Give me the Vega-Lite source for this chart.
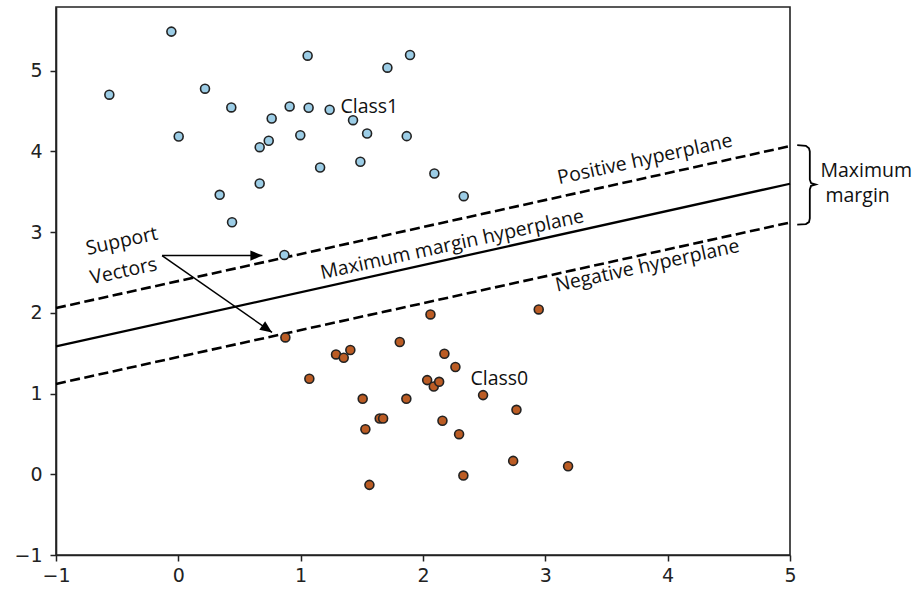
{
  "$schema": "https://vega.github.io/schema/vega-lite/v6.json",
  "width": 734,
  "height": 548,
  "autosize": {"type": "none"},
  "padding": {"left": 56, "top": 7, "right": 126, "bottom": 34},
  "background": "white",
  "config": {
    "view": {"stroke": "#222", "strokeWidth": 1.6},
    "axis": {
      "grid": false,
      "title": null,
      "labelFont": "DejaVu Sans",
      "labelFontSize": 19,
      "labelColor": "#222",
      "tickColor": "#222",
      "domainColor": "#222",
      "tickWidth": 1.5,
      "domainWidth": 1.6,
      "tickSize": 6,
      "labelFlush": false,
      "labelOverlap": false
    }
  },
  "datasets": {
    "points": [
      {"x": -0.564, "y": 4.704, "cls": "Class1"},
      {"x": -0.057, "y": 5.485, "cls": "Class1"},
      {"x": 0.003, "y": 4.186, "cls": "Class1"},
      {"x": 0.218, "y": 4.778, "cls": "Class1"},
      {"x": 0.433, "y": 4.546, "cls": "Class1"},
      {"x": 0.338, "y": 3.463, "cls": "Class1"},
      {"x": 0.439, "y": 3.123, "cls": "Class1"},
      {"x": 0.665, "y": 3.603, "cls": "Class1"},
      {"x": 0.665, "y": 4.053, "cls": "Class1"},
      {"x": 0.739, "y": 4.133, "cls": "Class1"},
      {"x": 0.763, "y": 4.409, "cls": "Class1"},
      {"x": 0.910, "y": 4.558, "cls": "Class1"},
      {"x": 0.997, "y": 4.202, "cls": "Class1"},
      {"x": 1.057, "y": 5.187, "cls": "Class1"},
      {"x": 1.065, "y": 4.542, "cls": "Class1"},
      {"x": 1.159, "y": 3.801, "cls": "Class1"},
      {"x": 1.237, "y": 4.517, "cls": "Class1"},
      {"x": 1.428, "y": 4.388, "cls": "Class1"},
      {"x": 1.488, "y": 3.872, "cls": "Class1"},
      {"x": 1.543, "y": 4.223, "cls": "Class1"},
      {"x": 1.709, "y": 5.038, "cls": "Class1"},
      {"x": 1.894, "y": 5.195, "cls": "Class1"},
      {"x": 1.867, "y": 4.190, "cls": "Class1"},
      {"x": 2.093, "y": 3.727, "cls": "Class1"},
      {"x": 2.333, "y": 3.446, "cls": "Class1"},
      {"x": 0.867, "y": 2.718, "cls": "Class1"},
      {"x": 0.875, "y": 1.696, "cls": "Class0"},
      {"x": 1.071, "y": 1.184, "cls": "Class0"},
      {"x": 1.289, "y": 1.485, "cls": "Class0"},
      {"x": 1.352, "y": 1.444, "cls": "Class0"},
      {"x": 1.406, "y": 1.540, "cls": "Class0"},
      {"x": 1.507, "y": 0.935, "cls": "Class0"},
      {"x": 1.529, "y": 0.559, "cls": "Class0"},
      {"x": 1.562, "y": -0.131, "cls": "Class0"},
      {"x": 1.646, "y": 0.691, "cls": "Class0"},
      {"x": 1.674, "y": 0.691, "cls": "Class0"},
      {"x": 1.810, "y": 1.639, "cls": "Class0"},
      {"x": 1.864, "y": 0.935, "cls": "Class0"},
      {"x": 2.061, "y": 1.981, "cls": "Class0"},
      {"x": 2.034, "y": 1.167, "cls": "Class0"},
      {"x": 2.088, "y": 1.088, "cls": "Class0"},
      {"x": 2.132, "y": 1.146, "cls": "Class0"},
      {"x": 2.175, "y": 1.494, "cls": "Class0"},
      {"x": 2.159, "y": 0.663, "cls": "Class0"},
      {"x": 2.265, "y": 1.329, "cls": "Class0"},
      {"x": 2.491, "y": 0.981, "cls": "Class0"},
      {"x": 2.764, "y": 0.799, "cls": "Class0"},
      {"x": 2.295, "y": 0.497, "cls": "Class0"},
      {"x": 2.946, "y": 2.043, "cls": "Class0"},
      {"x": 2.737, "y": 0.166, "cls": "Class0"},
      {"x": 3.186, "y": 0.100, "cls": "Class0"},
      {"x": 2.330, "y": -0.016, "cls": "Class0"}
    ],
    "lines": [
      {"x": -1, "y": 1.584, "kind": "mid"},
      {"x": 5, "y": 3.6, "kind": "mid"},
      {"x": -1, "y": 2.06, "kind": "pos"},
      {"x": 5, "y": 4.067, "kind": "pos"},
      {"x": -1, "y": 1.12, "kind": "neg"},
      {"x": 5, "y": 3.12, "kind": "neg"}
    ],
    "arrows": [
      {"x": -0.133, "y": 2.71, "arrow": "a", "o": 0},
      {"x": 0.687, "y": 2.71, "arrow": "a", "o": 1},
      {"x": -0.133, "y": 2.71, "arrow": "b", "o": 0},
      {"x": 0.766, "y": 1.758, "arrow": "b", "o": 1}
    ],
    "headA": [{"x": 0.687, "y": 2.71}],
    "headB": [{"x": 0.766, "y": 1.758}],
    "brace": [
      {"x": 5.059, "y": 4.078, "o": 0},
      {"x": 5.13, "y": 4.07, "o": 1},
      {"x": 5.155, "y": 4.04, "o": 2},
      {"x": 5.162, "y": 4.0, "o": 3},
      {"x": 5.162, "y": 3.65, "o": 4},
      {"x": 5.172, "y": 3.608, "o": 5},
      {"x": 5.21, "y": 3.591, "o": 6},
      {"x": 5.172, "y": 3.574, "o": 7},
      {"x": 5.162, "y": 3.53, "o": 8},
      {"x": 5.162, "y": 3.17, "o": 9},
      {"x": 5.155, "y": 3.125, "o": 10},
      {"x": 5.13, "y": 3.1, "o": 11},
      {"x": 5.059, "y": 3.094, "o": 12}
    ],
    "flatText": [
      {"x": 1.325, "y": 4.471, "label": "Class1"},
      {"x": 2.388, "y": 1.105, "label": "Class0"},
      {"x": 5.249, "y": 3.684, "label": "Maximum"},
      {"x": 5.29, "y": 3.37, "label": "margin"}
    ],
    "tiltText": [
      {"x": 2.249, "y": 2.772, "label": "Maximum margin hyperplane"},
      {"x": 3.825, "y": 3.829, "label": "Positive hyperplane"},
      {"x": 3.845, "y": 2.51, "label": "Negative hyperplane"},
      {"x": -0.451, "y": 2.815, "label": "Support"},
      {"x": -0.436, "y": 2.443, "label": "Vectors"}
    ]
  },
  "encoding": {
    "x": {"field": "x", "type": "quantitative", "scale": {"domain": [-1, 5], "nice": false, "zero": false},
          "axis": {"values": [-1, 0, 1, 2, 3, 4, 5], "labelPadding": 5}},
    "y": {"field": "y", "type": "quantitative", "scale": {"domain": [-1, 5.79], "nice": false, "zero": false},
          "axis": {"values": [-1, 0, 1, 2, 3, 4, 5], "labelPadding": 8}}
  },
  "layer": [
    {
      "data": {"name": "lines"},
      "transform": [{"filter": "datum.kind === 'mid'"}],
      "mark": {"type": "line", "color": "black", "strokeWidth": 2.3},
      "encoding": {"detail": {"field": "kind"}}
    },
    {
      "data": {"name": "lines"},
      "transform": [{"filter": "datum.kind !== 'mid'"}],
      "mark": {"type": "line", "color": "black", "strokeWidth": 2.6, "strokeDash": [10, 4.5]},
      "encoding": {"detail": {"field": "kind"}}
    },
    {
      "data": {"name": "arrows"},
      "mark": {"type": "line", "color": "black", "strokeWidth": 1.5},
      "encoding": {"detail": {"field": "arrow"}, "order": {"field": "o"}}
    },
    {
      "data": {"name": "headA"},
      "mark": {"type": "point", "shape": "M0,0L-2,-0.85L-2,0.85Z", "size": 144, "filled": true, "color": "black", "opacity": 1, "angle": 0}
    },
    {
      "data": {"name": "headB"},
      "mark": {"type": "point", "shape": "M0,0L-2,-0.85L-2,0.85Z", "size": 144, "filled": true, "color": "black", "opacity": 1, "angle": 34.9}
    },
    {
      "data": {"name": "brace"},
      "mark": {"type": "line", "color": "black", "strokeWidth": 1.8, "clip": false},
      "encoding": {"order": {"field": "o"}}
    },
    {
      "data": {"name": "points"},
      "mark": {"type": "point", "shape": "circle", "filled": true, "size": 80, "stroke": "#222", "strokeWidth": 1.6, "opacity": 1},
      "encoding": {
        "fill": {"field": "cls", "type": "nominal", "scale": {"domain": ["Class0", "Class1"], "range": ["#bb5c24", "#9ccde6"]}, "legend": null}
      }
    },
    {
      "data": {"name": "flatText"},
      "mark": {"type": "text", "font": "Open Sans", "fontSize": 19.5, "color": "#111", "align": "left", "baseline": "alphabetic"},
      "encoding": {"text": {"field": "label"}}
    },
    {
      "data": {"name": "tiltText"},
      "mark": {"type": "text", "font": "Open Sans", "fontSize": 19.5, "color": "#111", "align": "center", "baseline": "alphabetic", "angle": -12.3},
      "encoding": {"text": {"field": "label"}}
    }
  ]
}
